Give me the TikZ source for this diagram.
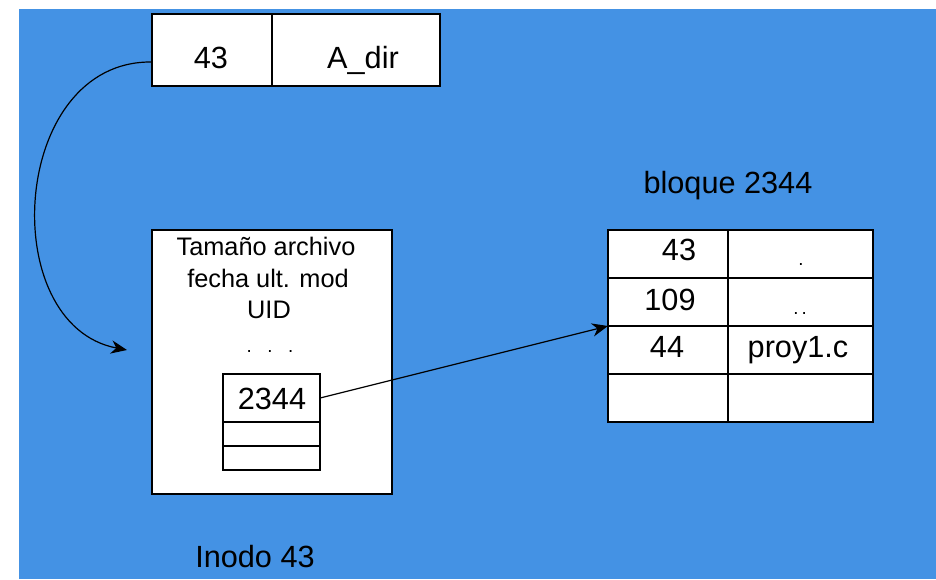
\documentclass[tikz,border=0pt]{standalone}
\usepackage{fontspec}
\setmainfont{Liberation Sans}
\usetikzlibrary{arrows.meta,fit,calc}
\definecolor{bgblue}{RGB}{68,146,228}
\begin{document}
\begin{tikzpicture}[x=0.75pt,y=-0.75pt,
  box/.style={draw=black,fill=white,line width=1.3pt,inner sep=0pt,outer sep=0pt},
  txt/.style={inner sep=0pt,anchor=base,text=black,font=\fontsize{23}{26}\selectfont},
  itxt/.style={inner sep=0pt,anchor=base,text=black,font=\fontsize{19}{24}\selectfont},
  dtxt/.style={inner sep=0pt,anchor=base,text=black,font=\fontsize{14}{16}\selectfont},
  conn/.style={draw=black,line width=0.9pt,-{Stealth[length=12pt,width=10pt]}}]
\useasboundingbox (0,0) rectangle (936,579);
\fill[white] (0,0) rectangle (936,579);
\fill[bgblue] (19,9) rectangle (936,579);

% directory entry
\node[box,fit={(152,14) (272,86)}] (rec43) {};
\node[box,fit={(272,14) (440,86)}] (recdir) {};
\node[txt] (t43) at (211,68) {43};
\node[txt] (tdir) at (363,68) {A\_dir};

% inode
\node[box,fit={(152,230) (392,494)}] (inode) {};
\node[itxt] (l1) at (266,255) {Tamaño archivo};
\node[itxt] (l2) at (268,287) {fecha ult. mod};
\node[itxt] (l3) at (269,318) {UID};
\node[dtxt] (l4) at (270,352) {.\ \ \ .\ \ \ .};
\node[box,fit={(223,374) (320,422)}] (c1) {};
\node[box,fit={(223,422) (320,446)}] (c2) {};
\node[box,fit={(223,446) (320,470)}] (c3) {};
\node[txt] (t2344) at (272,409) {2344};
\node[txt] (tinodo) at (255,567) {Inodo 43};

% block
\node[txt] (tbloque) at (728,193) {bloque 2344};
\node[box,fit={(608,230) (728,278)}] (r1a) {};
\node[box,fit={(728,230) (873,278)}] (r1b) {};
\node[box,fit={(608,278) (728,326)}] (r2a) {};
\node[box,fit={(728,278) (873,326)}] (r2b) {};
\node[box,fit={(608,326) (728,374)}] (r3a) {};
\node[box,fit={(728,326) (873,374)}] (r3b) {};
\node[box,fit={(608,374) (728,422)}] (r4a) {};
\node[box,fit={(728,374) (873,422)}] (r4b) {};
\node[txt] (v1a) at (679,260) {43};
\node[dtxt] (v1b) at (801,265) {.};
\node[txt] (v2a) at (670,310) {109};
\node[dtxt] (v2b) at (800,314) {.\,.};
\node[txt] (v3a) at (667,357) {44};
\node[txt] (v3b) at (798,357) {proy1.c};

% connectors
\coordinate (cs) at ($(rec43.west)+(0,12)$);
\coordinate (ce) at ($(inode.west)+(-25,-12)$);
\draw[conn] (cs) .. controls (10,60) and (-5,325) .. (ce);
\draw[conn] (c1.east) -- (r3a.north west);
\end{tikzpicture}
\end{document}
